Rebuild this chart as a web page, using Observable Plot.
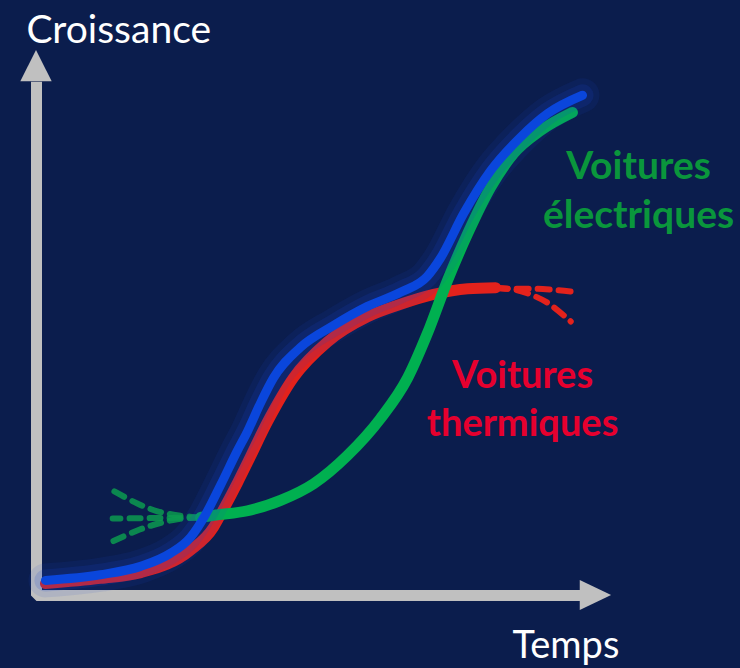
<!DOCTYPE html>
<html>
<head>
<meta charset="utf-8">
<script src="https://cdn.jsdelivr.net/npm/d3@7"></script>
<script src="https://cdn.jsdelivr.net/npm/@observablehq/plot@0.6"></script>
<style>
  html, body { margin: 0; padding: 0; background: #0b1d4d; }
  #chart { width: 740px; height: 668px; }
</style>
</head>
<body>
<div id="chart"></div>
<script>
// Series: [time, growth] on a 0–100 scale
const totalCurve = [
  [1.6, 2.9], [11.4, 4.0], [18.6, 5.6], [23.9, 8.1], [27.5, 11.2], [30.2, 15.6],
  [32.9, 21.3], [35.9, 27.9], [37.7, 31.6], [40.0, 37.0], [42.3, 41.8], [47.1, 47.7],
  [53.0, 51.9], [59.1, 55.6], [65.0, 58.3], [69.8, 61.4], [72.1, 64.8], [76.3, 73.5],
  [81.1, 81.7], [86.4, 88.1], [91.3, 92.7], [97.5, 96.2]
];
const thermalCurve = [
  [1.6, 2.3], [11.4, 3.3], [18.6, 4.4], [27.5, 8.7], [31.6, 13.1], [32.9, 15.6],
  [35.9, 21.7], [37.7, 25.6], [41.3, 33.5], [45.9, 41.9], [52.0, 48.8], [59.1, 53.6],
  [65.0, 56.0], [70.9, 57.9], [77.0, 59.0], [82.0, 59.2]
];
const thermalDashHigh = [[82.0, 59.2], [84.6, 59.0], [88.2, 59.0], [92.0, 58.8], [96.8, 58.3]];
const thermalDashLow = [[82.0, 59.2], [85.5, 58.8], [88.2, 57.9], [91.4, 56.2], [95.4, 52.7]];
const electricCurve = [
  [29.3, 15.0], [31.6, 15.4], [37.7, 16.3], [43.6, 18.3], [49.5, 21.5], [55.5, 26.9],
  [61.4, 34.0], [66.3, 41.9], [69.8, 50.4], [73.4, 60.6], [77.0, 69.6], [81.1, 78.5],
  [85.2, 85.0], [90.0, 89.4], [95.7, 92.9]
];
const electricDashUpper = [[29.3, 15.0], [25.4, 15.4], [21.6, 16.2], [18.0, 17.7], [13.6, 20.2]];
const electricDashMiddle = [[29.3, 15.0], [21.6, 14.9], [13.6, 14.8]];
const electricDashLower = [[29.3, 15.0], [25.4, 14.7], [21.6, 13.8], [18.0, 12.5], [13.6, 10.4]];

const axisLabels = ["Croissance", "Temps"];
const seriesLabels = ["Voitures\nélectriques", "Voitures\nthermiques"];

// axis geometry (data units)
const axisPath = [[0, 98.8], [0, 0], [97.1, 0]];
const xArrowHead = [{t: 97.1, lo: -2.9, hi: 2.9}, {t: 102.7, lo: 0, hi: 0}];
const yArrowHead = [{g: 98.8, lo: -2.8, hi: 2.8}, {g: 104.8, lo: 0, hi: 0}];

const X = d => d[0], Y = d => d[1];
const font = "Lato, 'Open Sans', sans-serif";
const BLUE = "#0a46dc", RED = "#e3221c", GREEN = "#00b050";
const C = "monotone-x";

const chart = Plot.plot({
  width: 740,
  height: 668,
  margin: 0,
  style: {background: "#0b1d4d", fontFamily: font, overflow: "visible"},
  x: {domain: [0, 100], range: [36, 596], axis: null},
  y: {domain: [0, 100], range: [595, 75], axis: null},
  marks: [
    // axes
    Plot.line(axisPath, {x: X, y: Y, stroke: "#c0c0c0", strokeWidth: 11, strokeLinejoin: "miter", strokeLinecap: "butt"}),
    Plot.areaY(xArrowHead, {x: "t", y1: "lo", y2: "hi", fill: "#c0c0c0"}),
    Plot.areaX(yArrowHead, {y: "g", x1: "lo", x2: "hi", fill: "#c0c0c0"}),
    // thermal
    Plot.line(thermalDashHigh, {x: X, y: Y, curve: C, stroke: RED, strokeWidth: 6, strokeDasharray: "12,9", strokeLinecap: "round"}),
    Plot.line(thermalDashLow, {x: X, y: Y, curve: "catmull-rom", stroke: RED, strokeWidth: 6, strokeDasharray: "12,9", strokeLinecap: "round"}),
    Plot.line(thermalCurve, {x: X, y: Y, curve: C, stroke: RED, strokeWidth: 11, strokeLinecap: "round"}),
    // electric
    Plot.line(electricDashUpper, {x: X, y: Y, curve: "catmull-rom", stroke: "#0c9a50", strokeOpacity: 0.85, strokeWidth: 6, strokeDasharray: "11,9", strokeLinecap: "round"}),
    Plot.line(electricDashMiddle, {x: X, y: Y, curve: "catmull-rom", stroke: "#0c9a50", strokeOpacity: 0.85, strokeWidth: 6, strokeDasharray: "11,9", strokeLinecap: "round"}),
    Plot.line(electricDashLower, {x: X, y: Y, curve: "catmull-rom", stroke: "#0c9a50", strokeOpacity: 0.85, strokeWidth: 6, strokeDasharray: "11,9", strokeLinecap: "round"}),
    Plot.line(electricCurve, {x: X, y: Y, curve: C, stroke: GREEN, strokeWidth: 11, strokeLinecap: "round"}),
    // total with glow
    Plot.line(totalCurve, {x: X, y: Y, curve: C, stroke: "#1a44d0", strokeOpacity: 0.10, strokeWidth: 34, strokeLinecap: "round"}),
    Plot.line(totalCurve, {x: X, y: Y, curve: C, stroke: "#1a44d0", strokeOpacity: 0.16, strokeWidth: 22, strokeLinecap: "round"}),
    Plot.line(totalCurve, {x: X, y: Y, curve: C, stroke: BLUE, strokeWidth: 9, strokeLinecap: "round"}),
    // texts
    Plot.text([axisLabels[0]], {x: -1.8, y: 108.6, text: d => d, textAnchor: "start", fill: "white", fontSize: 39}),
    Plot.text([axisLabels[1]], {x: 85, y: -9.6, text: d => d, textAnchor: "start", fill: "white", fontSize: 38}),
    Plot.text([seriesLabels[0]], {x: 107.5, y: 78.4, text: d => d, textAnchor: "middle", fill: "#0a963c", fontSize: 39, fontWeight: "bold", lineHeight: 1.27}),
    Plot.text([seriesLabels[1]], {x: 86.8, y: 38.2, text: d => d, textAnchor: "middle", fill: "#e6002e", fontSize: 38, fontWeight: "bold", lineHeight: 1.27})
  ]
});
document.getElementById("chart").appendChild(chart);
</script>
</body>
</html>
